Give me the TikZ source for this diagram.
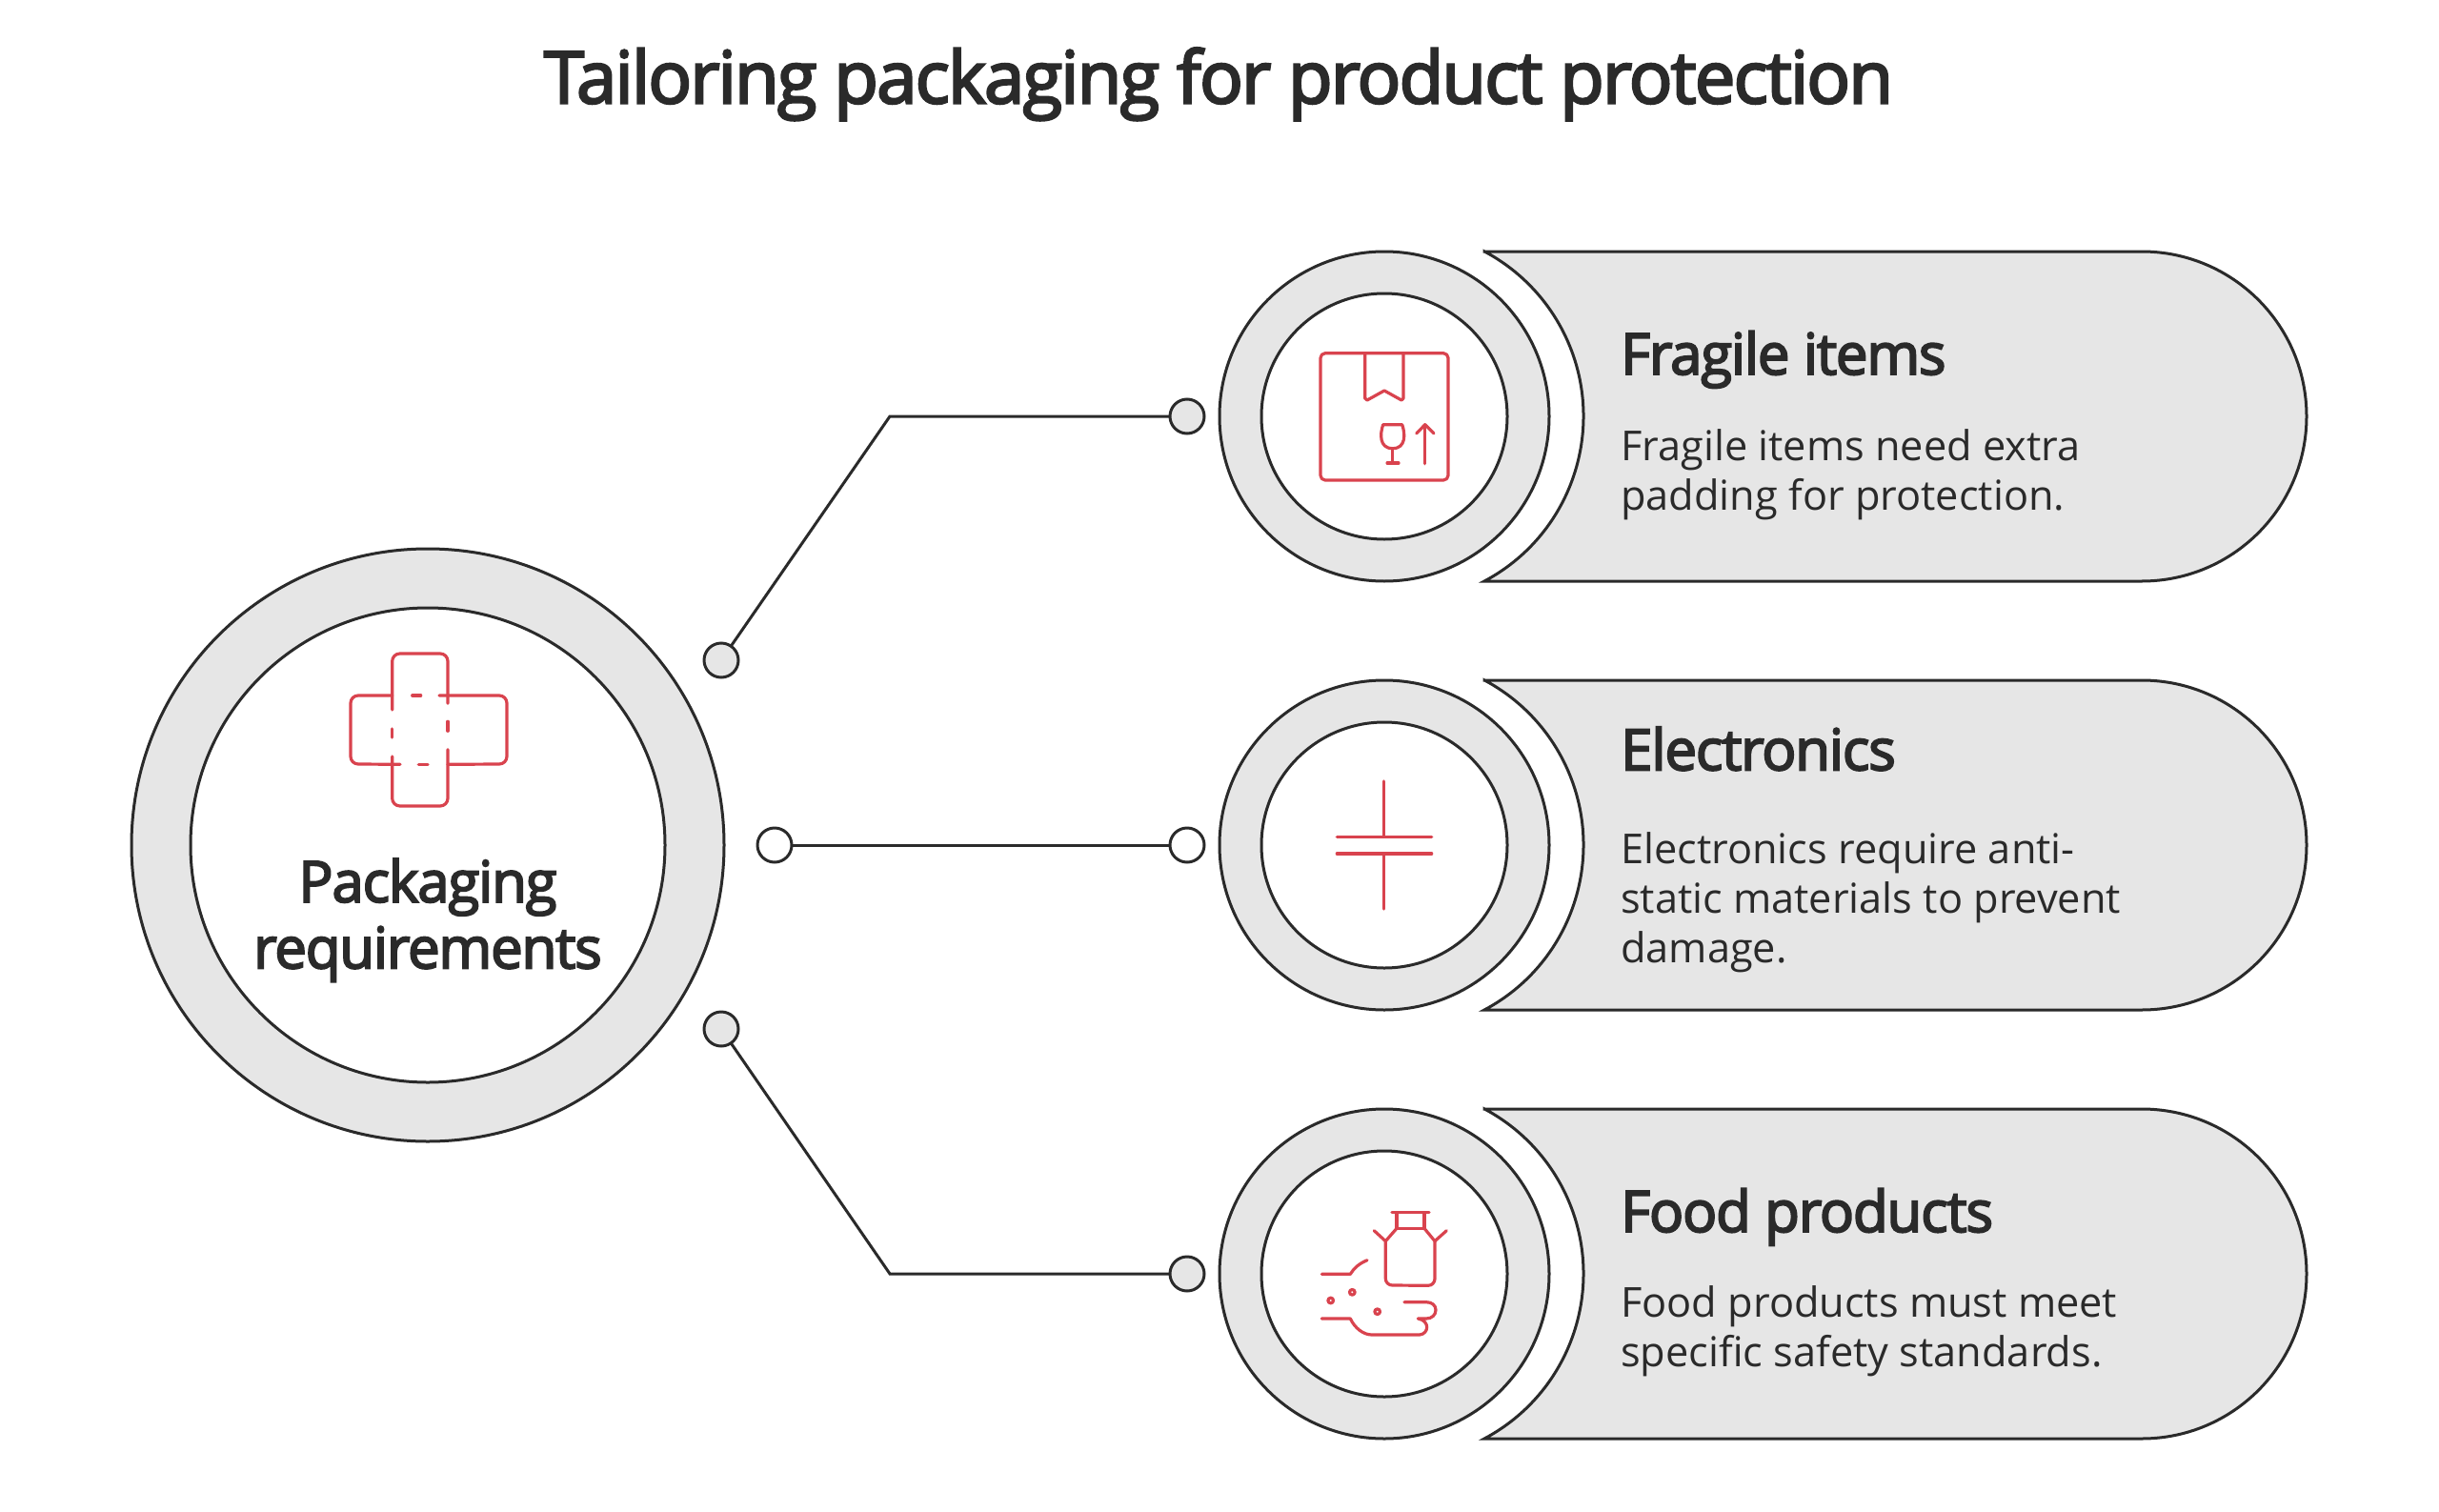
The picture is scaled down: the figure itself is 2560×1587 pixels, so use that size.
\documentclass[tikz,border=0pt]{standalone}
\usepackage{fontspec}
\setmainfont{Open Sans}
\newfontfamily\semifont[FakeBold=3.2,LetterSpace=-2]{Open Sans}
\newfontfamily\titlefont[FakeBold=3.2,LetterSpace=-2.4]{Open Sans}
\definecolor{ink}{HTML}{2A2A2A}
\definecolor{band}{HTML}{E6E6E6}
\definecolor{accent}{HTML}{D9434E}
\tikzset{
  ringouter/.style={circle,draw=ink,fill=band,line width=3pt,inner sep=0pt,outer sep=0pt},
  ringinner/.style={circle,draw=ink,fill=white,line width=3pt,inner sep=0pt,outer sep=0pt},
  pill/.style={draw=ink,fill=band,line width=3pt,line join=miter},
  dotgray/.style={circle,draw=ink,fill=band,line width=3pt,minimum size=36pt,inner sep=0pt,outer sep=0pt},
  dotwhite/.style={circle,draw=ink,fill=white,line width=3pt,minimum size=36pt,inner sep=0pt,outer sep=0pt},
  link/.style={draw=ink,line width=3pt,line join=miter},
  icon/.style={draw=accent,line width=3.2pt,line cap=round,line join=round},
  titletext/.style={font=\titlefont\fontsize{76}{88}\selectfont,text=ink,inner sep=0pt,anchor=base},
  headtext/.style={font=\semifont\fontsize{60}{68}\selectfont,text=ink,inner sep=0pt,anchor=base west,align=left},
  bodytext/.style={font=\fontsize{43.3}{52}\selectfont,text=ink,inner sep=0pt,anchor=north west,align=left},
  maintext/.style={font=\semifont\fontsize{60}{69.5}\selectfont,text=ink,inner sep=0pt,anchor=north,align=center},
}
\begin{document}
\begin{tikzpicture}[x=1pt,y=-1pt]
\path[use as bounding box,fill=white] (0,0) rectangle (2560,1587);

\node[titletext] (title) at (1279,108.3) {Tailoring packaging for product protection};

% pills
\foreach \py/\pn in {437/a,887/b,1337/c}{
  \path[pill] (1558,\py-173) -- (2248,\py-173) arc[start angle=-90,end angle=90,radius=173]
     -- (1558,\py+173) arc[start angle=62,end angle=-62,radius=196] -- cycle;
}

% main circle
\node[ringouter,minimum size=622pt] (mainout) at (449,887) {};
\node[ringinner,minimum size=498pt] (mainin) at (449,887) {};

% item circles
\node[ringouter,minimum size=346pt] (aout) at (1453,437) {};
\node[ringinner,minimum size=258pt] (ain) at (1453,437) {};
\node[ringouter,minimum size=346pt] (bout) at (1453,887) {};
\node[ringinner,minimum size=258pt] (bin) at (1453,887) {};
\node[ringouter,minimum size=346pt] (cout) at (1453,1337) {};
\node[ringinner,minimum size=258pt] (cin) at (1453,1337) {};

% connector dots
\node[dotgray] (s1) at (757,693) {};
\node[dotwhite] (s2) at (813,887) {};
\node[dotgray] (s3) at (757,1080) {};
\node[dotgray] (t1) at (1246,437) {};
\node[dotwhite] (t2) at (1246,887) {};
\node[dotgray] (t3) at (1246,1337) {};
\coordinate (e1) at (934,437);
\coordinate (e3) at (934,1337);
\draw[link] (s1) -- (e1) -- (t1);
\draw[link] (s2) -- (t2);
\draw[link] (s3) -- (e3) -- (t3);

% texts
\node[maintext] (mainlabel) at (449,901) {Packaging\\requirements};
\node[headtext] (h1) at (1701,393) {Fragile items};
\node[bodytext] (b1) at (1701,450) {Fragile items need extra\\padding for protection.};
\node[headtext] (h2) at (1701,808.3) {Electronics};
\node[bodytext] (b2) at (1701,873) {Electronics require anti-\\static materials to prevent\\damage.};
\node[headtext] (h3) at (1701,1293) {Food products};
\node[bodytext] (b3) at (1701,1349) {Food products must meet\\specific safety standards.};

% cross icon
\draw[icon] (411.7,730) -- (376,730) arc[start angle=-90,end angle=-180,radius=8] -- (368,794) arc[start angle=180,end angle=90,radius=8] -- (420,802.3);
\draw[icon] (461,730) -- (524,730) arc[start angle=-90,end angle=0,radius=8] -- (532,794) arc[start angle=0,end angle=90,radius=8] -- (470,802.3);
\draw[icon] (411.7,745) -- (411.7,694) arc[start angle=180,end angle=270,radius=8] -- (462,686) arc[start angle=-90,end angle=0,radius=8] -- (470,738.3);
\draw[icon] (411.7,794) -- (411.7,838) arc[start angle=180,end angle=90,radius=8] -- (462,846) arc[start angle=90,end angle=0,radius=8] -- (470,786.7);
\draw[icon] (432.7,730) -- (441.7,730);
\draw[icon] (439.3,802.3) -- (449,802.3);
\draw[icon] (411.7,765) -- (411.7,774);
\draw[icon] (470,757.3) -- (470,767.3);

% box icon
\draw[icon] (1386,375.7) arc[start angle=180,end angle=270,radius=5] -- (1515,370.7) arc[start angle=-90,end angle=0,radius=5] -- (1520,499) arc[start angle=0,end angle=90,radius=5] -- (1391,504) arc[start angle=90,end angle=180,radius=5] -- cycle;
\draw[icon] (1432.7,370.7) -- (1432.7,418) -- (1435,420) -- (1453,410) -- (1471,420) -- (1473,418) -- (1473,370.7);
\draw[icon] (1451.7,445.7) -- (1471.7,445.7) .. controls (1475,455) and (1476,470.7) .. (1461.7,470.7) .. controls (1447.4,470.7) and (1448.4,455) .. (1451.7,445.7) -- cycle;
\draw[icon] (1461.7,470.7) -- (1461.7,486);
\draw[icon] (1456,486) -- (1468,486);
\draw[icon] (1495.7,486.7) -- (1495.7,445.7);
\draw[icon] (1486.7,455) -- (1495.7,445.7) -- (1505,455);

% capacitor icon
\draw[icon] (1452.7,820) -- (1452.7,878.3);
\draw[icon] (1403.3,878.3) -- (1502.7,878.3);
\draw[icon] (1403.3,896) -- (1502.7,896);
\draw[icon] (1452.7,896) -- (1452.7,954);

% food icon
\draw[icon] (1461,1272.7) -- (1500,1272.7);
\draw[icon] (1466,1272.7) -- (1466,1289.3) -- (1495,1289.3) -- (1495,1272.7);
\draw[icon] (1466,1289.3) -- (1454.3,1302.7) -- (1454.3,1342) arc[start angle=180,end angle=90,radius=7] -- (1499,1349.3) arc[start angle=90,end angle=0,radius=7] -- (1506,1302.7) -- (1495,1289.3);
\draw[icon] (1454.3,1302.7) -- (1442.3,1291.7);
\draw[icon] (1506,1302.7) -- (1518.3,1291.7);
\draw[icon] (1387.3,1337.3) -- (1417.3,1337.3) .. controls (1421,1331) and (1427,1326) .. (1435,1322.7);
\draw[icon] (1396.7,1365) circle[radius=2.8];
\draw[icon] (1419.3,1356.3) circle[radius=2.8];
\draw[icon] (1445.7,1376.7) circle[radius=2.8];
\draw[icon] (1387.3,1384) -- (1417.3,1384) .. controls (1422,1394) and (1431,1401) .. (1440,1401) -- (1490,1401) .. controls (1500,1400) and (1501,1386) .. (1488.3,1384) -- (1497,1384) .. controls (1503,1384) and (1507,1380) .. (1507,1375) .. controls (1507,1370) and (1503,1366.7) .. (1497,1366.7) -- (1474,1366.7);
\end{tikzpicture}
\end{document}
